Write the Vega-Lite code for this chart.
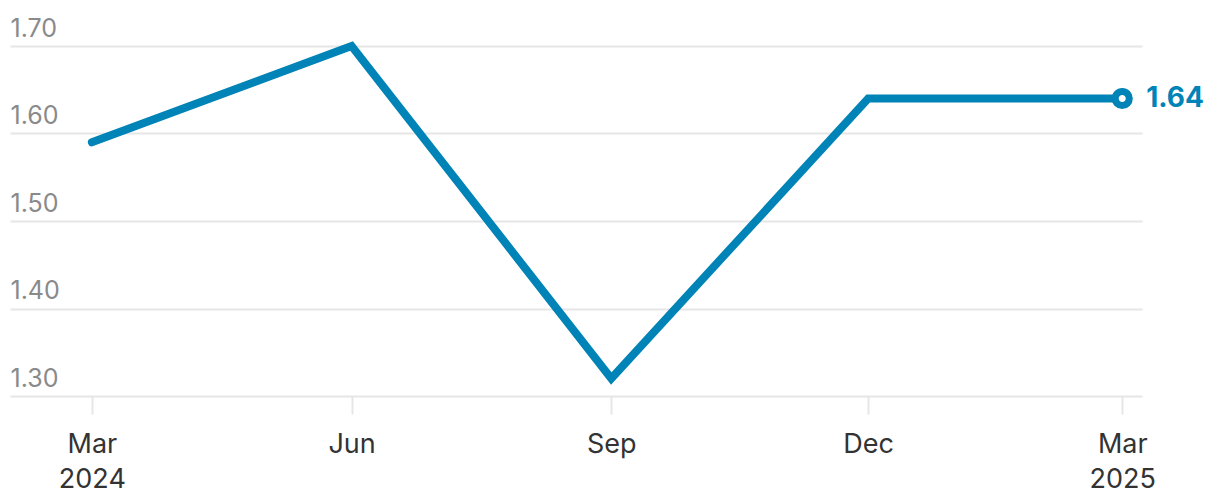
{
  "$schema": "https://vega.github.io/schema/vega-lite/v6.json",
  "width": 1132,
  "height": 350,
  "autosize": "none",
  "padding": {"left": 10, "top": 46, "right": 78, "bottom": 108},
  "background": "white",
  "config": {"view": {"stroke": null}, "font": "Inter"},
  "data": {
    "values": [
      {"date": "2024-03-01", "value": 1.59, "label": null},
      {"date": "2024-06-01", "value": 1.70, "label": null},
      {"date": "2024-09-01", "value": 1.32, "label": null},
      {"date": "2024-12-01", "value": 1.64, "label": null},
      {"date": "2025-03-01", "value": 1.64, "label": "1.64"}
    ]
  },
  "encoding": {
    "x": {
      "field": "date",
      "type": "temporal",
      "scale": {
        "type": "utc",
        "domain": [
          {"year": 2024, "month": 2, "date": 1, "utc": true},
          {"year": 2025, "month": 3, "date": 8, "utc": true}
        ]
      },
      "axis": {
        "title": null,
        "domain": false,
        "grid": false,
        "ticks": true,
        "tickSize": 18,
        "tickColor": "#e6e6e6",
        "tickWidth": 2,
        "tickOffset": 0,
        "values": [
          {"year": 2024, "month": 3, "date": 1, "utc": true},
          {"year": 2024, "month": 6, "date": 1, "utc": true},
          {"year": 2024, "month": 9, "date": 1, "utc": true},
          {"year": 2024, "month": 12, "date": 1, "utc": true},
          {"year": 2025, "month": 3, "date": 1, "utc": true}
        ],
        "labelExpr": "utcmonth(datum.value) == 2 ? [utcFormat(datum.value, '%b'), utcFormat(datum.value, '%Y')] : utcFormat(datum.value, '%b')",
        "labelFontSize": 27,
        "labelColor": "#333333",
        "labelPadding": 17,
        "labelLineHeight": 35,
        "labelFlush": false,
        "labelOverlap": false,
        "labelBound": false
      }
    },
    "y": {
      "field": "value",
      "type": "quantitative",
      "scale": {"domain": [1.3, 1.7], "zero": false, "nice": false},
      "axis": {
        "title": null,
        "domain": false,
        "ticks": false,
        "tickSize": 0,
        "values": [1.3, 1.4, 1.5, 1.6, 1.7],
        "format": ".2f",
        "grid": true,
        "gridColor": "#e6e6e6",
        "gridWidth": 2,
        "labelAlign": "left",
        "labelBaseline": "alphabetic",
        "labelPadding": 0,
        "labelOffset": -10,
        "labelFontSize": 25,
        "labelColor": "#8a8a8a",
        "labelFlush": false,
        "labelOverlap": false,
        "labelBound": false
      }
    }
  },
  "layer": [
    {
      "mark": {"type": "line", "color": "#0083b6", "strokeWidth": 8, "strokeJoin": "miter", "strokeCap": "round"}
    },
    {
      "transform": [{"filter": "datum.label != null"}],
      "mark": {"type": "point", "filled": true, "fill": "white", "stroke": "#0083b6", "strokeWidth": 7, "size": 200, "opacity": 1}
    },
    {
      "transform": [{"filter": "datum.label != null"}],
      "mark": {"type": "text", "align": "left", "baseline": "middle", "dx": 24, "dy": 0, "fontSize": 28, "fontWeight": "bold", "color": "#0083b6"},
      "encoding": {"text": {"field": "label"}}
    }
  ]
}
